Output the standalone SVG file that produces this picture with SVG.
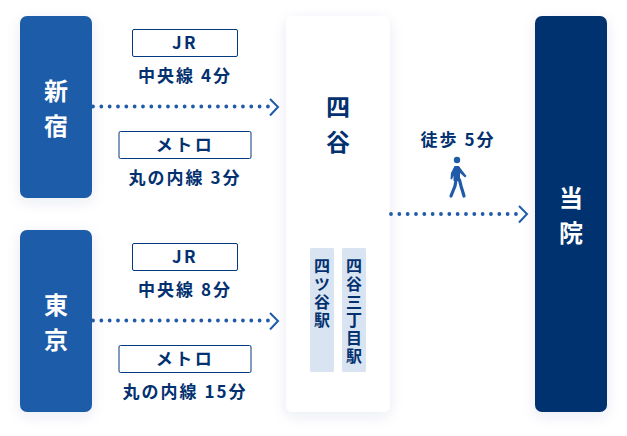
<svg xmlns="http://www.w3.org/2000/svg" width="627" height="436" viewBox="0 0 627 436">
<style>
text{font-family:"Noto Sans CJK JP","Noto Sans",sans-serif;font-weight:700;text-anchor:middle}
.big{font-size:24px;fill:#fff}
.t{font-size:17px;fill:#03316f;letter-spacing:2px}
.tag{font-size:17px;fill:#03316f;letter-spacing:2.5px}
.box{fill:#fff;stroke:#03397e;stroke-width:1}
.v{font-size:16px;fill:#03316f;writing-mode:vertical-rl;text-anchor:start;letter-spacing:2px}
.dots{fill:none;stroke:#1f5ba8;stroke-width:3.8;stroke-linecap:round;stroke-dasharray:0 8.33}
.head{fill:none;stroke:#1f5ba8;stroke-width:2}
.leg{fill:none;stroke:#1f5ba8;stroke-width:3.200;stroke-linecap:round;stroke-linejoin:round}
</style>
<defs><filter id="s" x="-40%" y="-20%" width="180%" height="140%"><feDropShadow dx="0" dy="4" stdDeviation="7" flood-color="#1f3f7f" flood-opacity="0.09"/></filter></defs>
<rect width="627" height="436" fill="#fff"/>
<g id="shinjuku"><rect x="20" y="16" width="72" height="182" rx="7" fill="#1f5ba8" filter="url(#s)"/><text class="big" x="56" y="100">新</text><text class="big" x="56" y="135">宿</text></g>
<g id="tokyo"><rect x="20" y="230" width="72" height="182" rx="7" fill="#1f5ba8" filter="url(#s)"/><text class="big" x="56" y="314">東</text><text class="big" x="56" y="349">京</text></g>
<g id="yotsuya"><rect x="286" y="16" width="104" height="396" rx="7" fill="#fff" filter="url(#s)"/><text class="big" style="fill:#03316f" x="338" y="116">四</text><text class="big" style="fill:#03316f" x="338" y="151">谷</text>
<rect x="310" y="248" width="24" height="124" rx="1.5" fill="#d9e4f2"/><text class="v" x="322" y="258">四ツ谷駅</text>
<rect x="342" y="248" width="24" height="124" rx="1.5" fill="#d9e4f2"/><text class="v" x="354" y="258">四谷三丁目駅</text></g>
<g id="hospital"><rect x="535" y="16" width="72" height="396" rx="7" fill="#03316f" filter="url(#s)"/><text class="big" x="571" y="207">当</text><text class="big" x="571" y="242">院</text></g>
<g id="connectors">
<path class="dots" d="M93 106.500H272"/><path class="head" d="M270 99l8 8-8 8.500"/>
<path class="dots" d="M93 320.500H272"/><path class="head" d="M270 313l8 8-8 8.500"/>
<path class="dots" d="M391 214H520"/><path class="head" d="M519 206l8 8-8 8.500"/>
</g>
<g id="r1"><rect class="box" x="132.500" y="29.500" width="105" height="27" rx="1.500"/><text class="tag" x="185" y="49">JR</text><text class="t" x="185" y="82">中央線 4分</text></g>
<g id="r2"><rect class="box" x="119" y="131.500" width="132" height="27" rx="1.500"/><text class="tag" x="185" y="151">メトロ</text><text class="t" x="185" y="184">丸の内線 3分</text></g>
<g id="r3"><rect class="box" x="132.500" y="243.500" width="105" height="27" rx="1.500"/><text class="tag" x="185" y="263">JR</text><text class="t" x="185" y="296">中央線 8分</text></g>
<g id="r4"><rect class="box" x="119" y="345.500" width="132" height="27" rx="1.500"/><text class="tag" x="185" y="365">メトロ</text><text class="t" x="185" y="398">丸の内線 15分</text></g>
<g id="walk"><text class="t" x="458" y="146">徒歩 5分</text>
<circle cx="457" cy="160" r="3.200" fill="#1f5ba8"/>
<path d="M454.500 166h4.500l2 3 5.500 7-1.500 1.500-5-4.500v8h-6.500v-5.500l-1.500 4-1.500-.5.500-6z" fill="#1f5ba8"/>
<path class="leg" d="M456 180l-1 6-4 10M459.500 180l1.500 6 3 10"/></g>
</svg>
